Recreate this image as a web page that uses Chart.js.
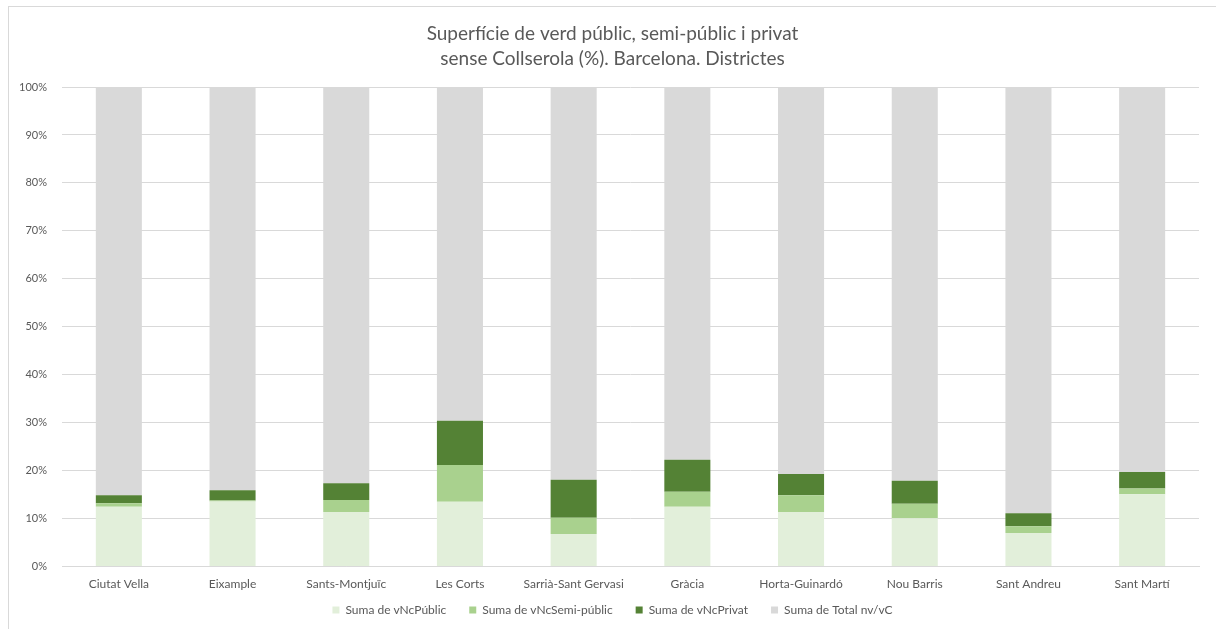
<!DOCTYPE html>
<html>
<head>
<meta charset="utf-8">
<script src="https://cdn.jsdelivr.net/npm/chart.js@4/dist/chart.umd.min.js"></script>
<style>
  html, body { margin: 0; padding: 0; background: #ffffff; overflow: hidden; }
  #wrap { position: absolute; left: 0; top: 0; width: 1216px; height: 629px; overflow: hidden; }
  #frame { position: absolute; left: 8px; top: 6px; width: 1220px; height: 640px; border-left: 1px solid #d9d9d9; border-top: 1px solid #d9d9d9; pointer-events: none; }
</style>
</head>
<body>
<div id="wrap">
  <canvas id="c" width="1216" height="629"></canvas>
  <div id="frame"></div>
</div>
<script>
const categories = ["Ciutat Vella", "Eixample", "Sants-Montjuïc", "Les Corts", "Sarrià-Sant Gervasi", "Gràcia", "Horta-Guinardó", "Nou Barris", "Sant Andreu", "Sant Martí"];
const publicValues = [12.5, 13.6, 11.4, 13.5, 6.8, 12.5, 11.4, 10.1, 7.0, 15.1];
const semiPublicValues = [0.7, 0.2, 2.5, 7.7, 3.4, 3.1, 3.5, 3.0, 1.4, 1.2];
const privateValues = [1.7, 2.1, 3.5, 9.2, 7.9, 6.7, 4.4, 4.8, 2.7, 3.4];
const totalNoGreenValues = [85.1, 84.1, 82.6, 69.6, 81.9, 77.7, 80.7, 82.1, 88.9, 80.3];
const seriesNames = ["Suma de vNcPúblic", "Suma de vNcSemi-públic", "Suma de vNcPrivat", "Suma de Total nv/vC"];
const yTicks = [0, 10, 20, 30, 40, 50, 60, 70, 80, 90, 100];
const titleLines = ["Superfície de verd públic, semi-públic i privat", "sense Collserola (%). Barcelona. Districtes"];

const colors = ["#e2efda", "#a9d18e", "#548235", "#d9d9d9"];
const seriesValues = [publicValues, semiPublicValues, privateValues, totalNoGreenValues];

const FONT = "Lato, 'Open Sans', sans-serif";
const TEXT = "#595959";

const X_SHRINK = 20;
const LEFT_PAD = 26;
const unclipAxes = {
  id: "unclipAxes",
  afterLayout(chart) {
    const x = chart.scales.x;
    if (x) { x.bottom += X_SHRINK; }
    const y = chart.scales.y;
    if (y) { y.left -= LEFT_PAD; }
  }
};

new Chart(document.getElementById("c"), {
  type: "bar",
  data: {
    labels: categories,
    datasets: seriesNames.map((name, i) => ({
      label: name,
      data: seriesValues[i],
      backgroundColor: colors[i],
      borderWidth: 0,
      categoryPercentage: 1.0,
      barPercentage: 0.405
    }))
  },
  plugins: [unclipAxes],
  options: {
    responsive: false,
    animation: false,
    layout: { padding: { top: 12, right: 17, bottom: 3, left: LEFT_PAD } },
    plugins: {
      title: {
        display: true,
        text: titleLines,
        color: TEXT,
        font: { family: FONT, size: 19, weight: "normal", lineHeight: 1.316 },
        padding: { top: 9, bottom: 16 }
      },
      legend: {
        position: "bottom",
        labels: {
          color: TEXT,
          font: { family: FONT, size: 12 },
          boxWidth: 7,
          boxHeight: 7,
          padding: 23
        }
      },
      tooltip: { enabled: false }
    },
    scales: {
      x: {
        stacked: true,
        afterFit: (scale) => { scale.height = scale.height - X_SHRINK; },
        grid: { display: false, drawTicks: false },
        border: { display: true, color: "#d9d9d9" },
        ticks: { color: TEXT, font: { family: FONT, size: 12 }, padding: 10, maxRotation: 0 }
      },
      y: {
        stacked: true,
        min: 0,
        max: 100,
        afterFit: (scale) => { scale.width = 62 - LEFT_PAD; },
        afterBuildTicks: (scale) => { scale.ticks = yTicks.map(v => ({ value: v })); },
        grid: { color: "#d9d9d9", drawTicks: false },
        border: { display: false },
        ticks: {
          color: TEXT,
          font: { family: FONT, size: 11 },
          padding: 15,
          callback: (v) => v + "%"
        }
      }
    }
  }
});
</script>
</body>
</html>
